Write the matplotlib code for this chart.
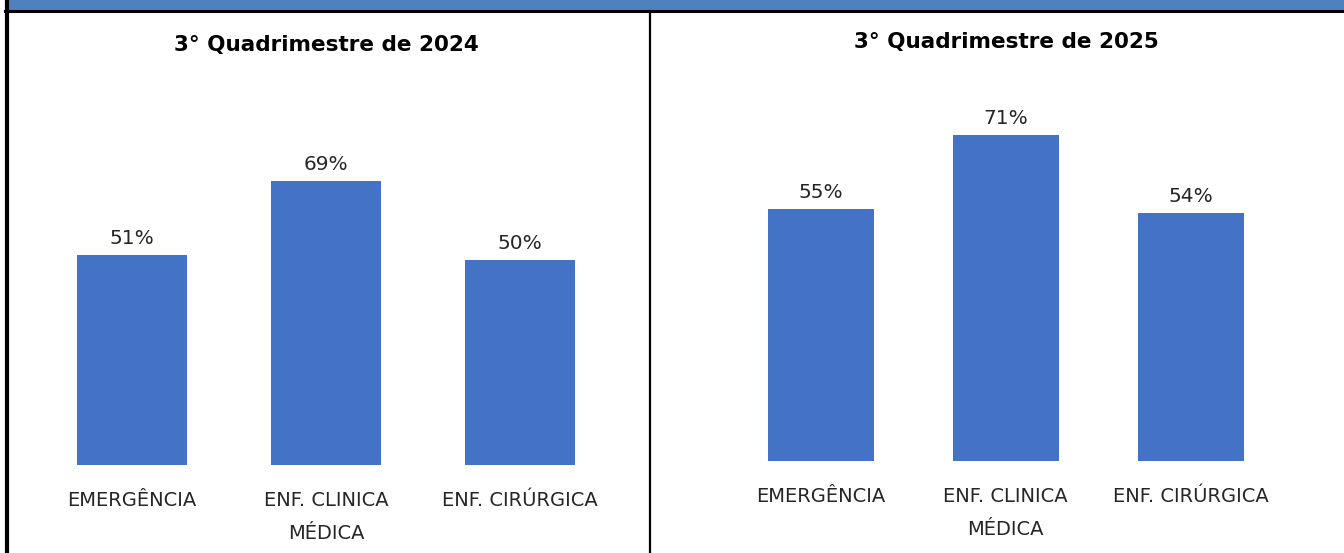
import matplotlib
matplotlib.use("Agg")
import matplotlib.pyplot as plt
from matplotlib.patches import Rectangle
from matplotlib.lines import Line2D

plt.rcParams['font.family'] = ['DejaVu Sans']

categories = ["EMERGÊNCIA", "ENF. CLINICA\nMÉDICA", "ENF. CIRÚRGICA"]
values_2024 = [51, 69, 50]
values_2025 = [55, 71, 54]
titles = ["3° Quadrimestre de 2024", "3° Quadrimestre de 2025"]

W, H = 1344, 553
fig = plt.figure(figsize=(W / 100, H / 100), dpi=100)
fig.patch.set_facecolor("white")

BAR = "#4472C4"
TXT = "#262626"


def px_axes(x0, x1, y_top, y_bottom):
    return fig.add_axes([x0 / W, 1 - y_bottom / H, (x1 - x0) / W, (y_bottom - y_top) / H])


def panel(ax, values, title, width, title_y, cx):
    x = range(len(categories))
    ax.bar(x, values, width=width, color=BAR)
    ax.set_xlim(-0.5, len(categories) - 0.5)
    ax.set_ylim(0, 80)
    for xi, v in zip(x, values):
        ax.annotate(f"{v}%", (xi, v), xytext=(0, 5), textcoords="offset points",
                    ha="center", va="bottom", fontsize=14.5, color=TXT)
    ax.set_xticks(list(x))
    ax.set_xticklabels(categories, fontsize=14, color=TXT, linespacing=1.9)
    ax.tick_params(axis="x", length=0, pad=19)
    ax.set_yticks([])
    for s in ax.spines.values():
        s.set_visible(False)
    ax.patch.set_alpha(0)
    fig.text(cx / W, 1 - title_y / H, title, ha="center", va="center",
             fontsize=15.5, fontweight="bold", color="black")


ax1 = px_axes(35, 617, 465 - 80 * 4.11, 465)
panel(ax1, values_2024, titles[0], 0.567, 45, 326)

ax2 = px_axes(728.5, 1283, 461 - 80 * 4.59, 461)
panel(ax2, values_2025, titles[1], 0.573, 42, 1006)

# Header band and frame lines
fig.add_artist(Rectangle((9 / W, 1 - 10 / H), 1 - 9 / W, 10 / H,
                         transform=fig.transFigure, facecolor="#4F81BD", edgecolor="none"))
fig.add_artist(Line2D([5 / W, 1], [1 - 11 / H, 1 - 11 / H], transform=fig.transFigure,
                      color="black", linewidth=2.2))
fig.add_artist(Line2D([7 / W, 7 / W], [0, 1], transform=fig.transFigure,
                      color="black", linewidth=3.0))
fig.add_artist(Line2D([650 / W, 650 / W], [0, 1 - 11 / H], transform=fig.transFigure,
                      color="black", linewidth=1.6))

fig.savefig("out.png", dpi=100)
